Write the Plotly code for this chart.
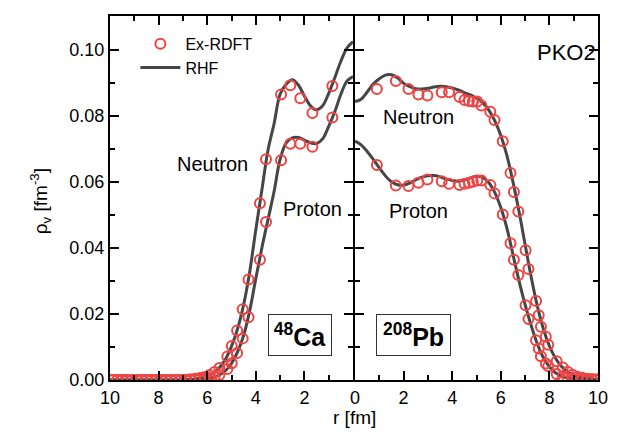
import plotly.graph_objects as go

# RHF curves on a 0.25 fm grid
r_line = [0.0, 0.25, 0.5, 0.75, 1.0, 1.25, 1.5, 1.75, 2.0, 2.25, 2.5, 2.75, 3.0, 3.25, 3.5, 3.75,
          4.0, 4.25, 4.5, 4.75, 5.0, 5.25, 5.5, 5.75, 6.0, 6.25, 6.5, 6.75, 7.0, 7.25, 7.5, 7.75,
          8.0, 8.25, 8.5, 8.75, 9.0, 9.25, 9.5, 9.75, 10.0]
ca_n_rhf = [0.1024, 0.1005, 0.0965, 0.0915, 0.0868, 0.0830, 0.0818, 0.0830, 0.0860, 0.0893, 0.0909, 0.0895,
            0.0865, 0.0775, 0.0695, 0.0575, 0.0455, 0.0328, 0.0228, 0.0155, 0.0102, 0.0063, 0.0037, 0.0021,
            0.0011, 0.0006, 0.0003, 0.00015, 0.0001, 0.0, 0.0, 0.0, 0.0, 0.0, 0.0, 0.0, 0.0, 0.0, 0.0, 0.0, 0.0]
ca_p_rhf = [0.0919, 0.0905, 0.0865, 0.0812, 0.0768, 0.0730, 0.0716, 0.0718, 0.0726, 0.0734, 0.0733, 0.0718,
            0.0668, 0.0570, 0.0485, 0.0400, 0.0307, 0.0210, 0.0135, 0.0085, 0.0050, 0.0028, 0.0015, 0.0008,
            0.0004, 0.0002, 0.0001, 0.0, 0.0, 0.0, 0.0, 0.0, 0.0, 0.0, 0.0, 0.0, 0.0, 0.0, 0.0, 0.0, 0.0]
pb_n_rhf = [0.0843, 0.0850, 0.0872, 0.0896, 0.0912, 0.0923, 0.0924, 0.0915, 0.0898, 0.0888, 0.0882, 0.0881,
            0.0883, 0.0887, 0.0889, 0.0888, 0.0884, 0.0878, 0.0870, 0.0863, 0.0853, 0.0840, 0.0818, 0.0785,
            0.0740, 0.0680, 0.0600, 0.0510, 0.0410, 0.0312, 0.0225, 0.0155, 0.0103, 0.0066, 0.0041, 0.0025,
            0.0015, 0.0009, 0.0005, 0.0003, 0.0002]
pb_p_rhf = [0.0723, 0.0712, 0.0692, 0.0668, 0.0642, 0.0618, 0.0600, 0.0591, 0.0590, 0.0596, 0.0606, 0.0614,
            0.0618, 0.0619, 0.0615, 0.0609, 0.0604, 0.0602, 0.0605, 0.0612, 0.0617, 0.0613, 0.0598, 0.0568,
            0.0522, 0.0460, 0.0380, 0.0300, 0.0228, 0.0165, 0.0110, 0.0068, 0.0040, 0.0022, 0.0012, 0.0006,
            0.0003, 0.0002, 0.0001, 0.0, 0.0]

# Ex-RDFT points
r_ca = [0.85, 1.67, 2.17, 2.58, 2.96, 3.58, 3.83, 4.30, 4.54, 4.77, 4.99, 5.17,
        5.5, 5.7, 5.9, 6.1, 6.3, 6.5, 6.7, 6.9, 7.1, 7.3, 7.5, 7.7, 7.9, 8.1, 8.3,
        8.5, 8.7, 8.9, 9.1, 9.3, 9.5, 9.7, 9.9]
ca_n_ex = [0.0890, 0.0808, 0.0853, 0.0892, 0.0864, 0.0668, 0.0535, 0.0304, 0.0214, 0.0150, 0.0103, 0.0071,
           0.0036, 0.0024, 0.0015, 0.0009, 0.0006, 0.0004, 0.0002, 0.0001, 0.0, 0.0, 0.0, 0.0, 0.0, 0.0, 0.0,
           0.0, 0.0, 0.0, 0.0, 0.0, 0.0, 0.0, 0.0]
ca_p_ex = [0.0795, 0.0706, 0.0715, 0.0715, 0.0665, 0.0478, 0.0364, 0.0190, 0.0126, 0.0082, 0.0051, 0.0033,
           0.0015, 0.0009, 0.0005, 0.0003, 0.0002, 0.0001, 0.0, 0.0, 0.0, 0.0, 0.0, 0.0, 0.0, 0.0, 0.0,
           0.0, 0.0, 0.0, 0.0, 0.0, 0.0, 0.0, 0.0]

r_pb = [0.90, 1.68, 2.20, 2.61, 2.98, 3.57, 3.87, 4.30, 4.51, 4.69, 4.85, 5.03, 5.20, 5.57, 5.74,
        6.08, 6.40, 6.54, 6.72, 7.02, 7.14, 7.45, 7.56, 7.65, 7.85, 7.95, 8.30, 8.55, 8.75,
        8.95, 9.15, 9.35, 9.55, 9.75, 9.95]
pb_n_ex = [0.0881, 0.0905, 0.0881, 0.0864, 0.0861, 0.0871, 0.0871, 0.0857, 0.0848, 0.0845, 0.0843, 0.0843,
           0.0831, 0.0812, 0.0787, 0.0723, 0.0627, 0.0569, 0.0510, 0.0393, 0.0336, 0.0239, 0.0196, 0.0161,
           0.0131, 0.0107, 0.0057, 0.0038, 0.0025, 0.0016, 0.0010, 0.0007, 0.0004, 0.0003, 0.0002]
pb_p_ex = [0.0651, 0.0589, 0.0587, 0.0597, 0.0607, 0.0602, 0.0594, 0.0590, 0.0594, 0.0597, 0.0600, 0.0604,
           0.0604, 0.0590, 0.0565, 0.0501, 0.0414, 0.0364, 0.0318, 0.0226, 0.0185, 0.0120, 0.0095, 0.0072,
           0.0050, 0.0042, 0.0018, 0.0010, 0.0006, 0.0004, 0.0002, 0.0001, 0.0, 0.0, 0.0]

# tick labels of the r axes (the shared 0 is written once, by the right panel)
ca_ticks = [10, 8, 6, 4, 2, 0]
ca_ticktext = ['10', '8', '6', '4', '2', '']
pb_ticks = [0, 2, 4, 6, 8, 10]
pb_ticktext = ['0', '2', '4', '6', '8', '10']

LINE = '#464646'
RED = '#EE4444'
FONT = 'Liberation Sans, Arial, sans-serif'

fig = go.Figure()

def add_line(x, y, ax, show):
    fig.add_trace(go.Scatter(x=x, y=y, mode='lines', line=dict(color=LINE, width=3, shape='spline'),
                             name='RHF', showlegend=show, legendrank=2, xaxis=ax[0], yaxis=ax[1]))

def add_pts(x, y, ax, show):
    fig.add_trace(go.Scatter(x=x, y=y, mode='markers', name='Ex-RDFT', showlegend=show, legendrank=1,
                             marker=dict(symbol='circle-open', size=10, color=RED, line=dict(width=2, color=RED)),
                             xaxis=ax[0], yaxis=ax[1]))

add_line(r_line, ca_n_rhf, ('x', 'y'), True)
add_line(r_line, ca_p_rhf, ('x', 'y'), False)
add_line(r_line, pb_n_rhf, ('x2', 'y2'), False)
add_line(r_line, pb_p_rhf, ('x2', 'y2'), False)
add_pts(r_ca, ca_n_ex, ('x', 'y'), True)
add_pts(r_ca, ca_p_ex, ('x', 'y'), False)
add_pts(r_pb, pb_n_ex, ('x2', 'y2'), False)
add_pts(r_pb, pb_p_ex, ('x2', 'y2'), False)

axis_common = dict(showline=True, linecolor='black', linewidth=2, mirror='ticks', ticks='inside',
                   ticklen=9, tickwidth=1.5, tickcolor='black', showgrid=False, zeroline=False,
                   tickfont=dict(size=18, color='black', family=FONT))
minor = dict(ticks='inside', ticklen=5, tickcolor='black', tickwidth=1.5)
ymax = 0.1102

# the page body adds an 8px offset, so the figure is drawn 8px smaller
fig.update_layout(
    width=619, height=429,
    margin=dict(l=102, r=29, t=6, b=57),
    plot_bgcolor='white', paper_bgcolor='white',
    font=dict(family=FONT, color='black'),
    xaxis=dict(domain=[0, 243 / 488], range=[10, 0], tickmode='array', tickvals=ca_ticks,
               ticktext=ca_ticktext, minor=dict(dtick=1, tick0=0, **minor), anchor='y', **axis_common),
    xaxis2=dict(domain=[245 / 488, 1], range=[0, 10], tickmode='array', tickvals=pb_ticks,
                ticktext=pb_ticktext, minor=dict(dtick=1, tick0=0, **minor), anchor='y2', **axis_common),
    yaxis=dict(range=[0, ymax], dtick=0.02, tick0=0, tickformat='.2f', minor=dict(dtick=0.01, **minor),
               anchor='x', **axis_common),
    yaxis2=dict(range=[0, ymax], dtick=0.02, tick0=0, showticklabels=False, minor=dict(dtick=0.01, **minor),
                anchor='x2', **axis_common),
    legend=dict(x=0.052, y=0.97, xanchor='left', yanchor='top', bgcolor='rgba(0,0,0,0)',
                font=dict(size=16, family=FONT), tracegroupgap=0, itemwidth=40),
    showlegend=True,
)

txt = dict(showarrow=False, font=dict(size=20, family=FONT, color='black'))
fig.add_annotation(x=5.78, y=0.0654, xref='x', yref='y', text='Neutron', **txt)
fig.add_annotation(x=1.68, y=0.0518, xref='x', yref='y', text='Proton', **txt)
fig.add_annotation(x=2.62, y=0.0795, xref='x2', yref='y2', text='Neutron', **txt)
fig.add_annotation(x=2.62, y=0.0512, xref='x2', yref='y2', text='Proton', **txt)
fig.add_annotation(x=8.69, y=0.0991, xref='x2', yref='y2', text='PKO2', showarrow=False,
                   font=dict(size=22, family=FONT, color='black'))

box = dict(showarrow=False, bordercolor='#333333', borderwidth=1, borderpad=0, height=40, bgcolor='white',
           font=dict(size=25, family=FONT, color='black'))
fig.add_annotation(x=2.17, y=0.01355, xref='x', yref='y', width=62, text='<b><sup>48</sup>Ca</b>', **box)
fig.add_annotation(x=2.40, y=0.01355, xref='x2', yref='y2', width=73, text='<b><sup>208</sup>Pb</b>', **box)

fig.add_annotation(x=0.5, y=-0.068, xref='paper', yref='paper', yanchor='top', text='r [fm]',
                   showarrow=False, font=dict(size=19, family=FONT))
fig.add_annotation(x=-0.174, y=0.49, xref='paper', yref='paper', textangle=-90,
                   text='ρ<sub>v</sub> [fm<sup>-3</sup>]', showarrow=False, font=dict(size=19, family=FONT))

fig.write_html("out.html")
